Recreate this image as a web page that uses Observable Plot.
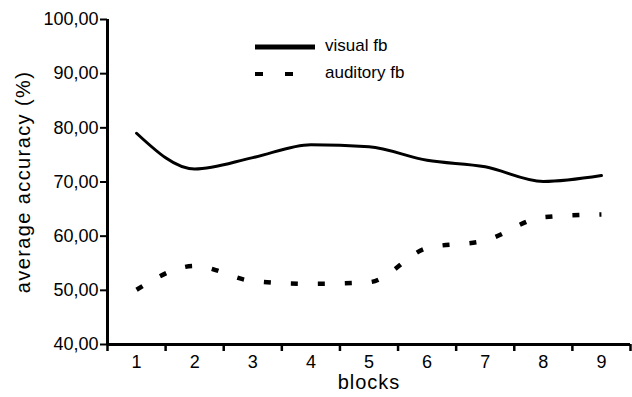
<!DOCTYPE html>
<html><head><meta charset="utf-8">
<script src="https://cdn.jsdelivr.net/npm/d3@7"></script>
<script src="https://cdn.jsdelivr.net/npm/@observablehq/plot@0.6"></script>
<style>
body{margin:0;background:#fff;}
#wrap{position:relative;width:632px;height:397px;font-family:"Liberation Sans",Arial,sans-serif;}
#legend{position:absolute;left:250px;top:34px;}
</style></head><body><div id="wrap"><div id="chart"></div><div id="legend"></div></div>
<script>
const blocks = [1, 2, 3, 4, 5, 6, 7, 8, 9];
const visualFb = [79.0, 72.4, 74.5, 76.9, 76.5, 74.0, 72.8, 70.1, 71.2];
const auditoryFb = [50.1, 54.5, 51.7, 51.2, 51.5, 57.8, 59.2, 63.5, 64.0];
const yTicks = [40, 50, 60, 70, 80, 90, 100];
const seriesNames = ["visual fb", "auditory fb"];

const visualData = blocks.map((b, i) => ({block: b, value: visualFb[i], series: seriesNames[0]}));
const auditoryData = blocks.map((b, i) => ({block: b, value: auditoryFb[i], series: seriesNames[1]}));
const edges = [blocks[0] - 0.5, ...blocks.map(b => b + 0.5)];
const fmt = d => d.toFixed(2).replace(".", ",");
const font = '"Liberation Sans", Arial, sans-serif';

const chart = Plot.plot({
  width: 632, height: 397,
  marginLeft: 107, marginRight: 2, marginTop: 19, marginBottom: 53,
  style: {fontFamily: font, fontSize: "18px", color: "#000", background: "#fff", overflow: "visible"},
  x: {type: "linear", domain: [edges[0], edges[edges.length - 1]]},
  y: {domain: [40, 100]},
  marks: [
    Plot.axisY(yTicks, {tickSize: 7, tickPadding: 2, tickFormat: fmt, strokeWidth: 2, fontSize: 18,
      label: "average accuracy (%)", labelAnchor: "center", labelArrow: "none", labelOffset: 92}),
    Plot.axisX(blocks, {tickSize: 0, tickPadding: 11, tickFormat: d => String(d), fontSize: 18,
      label: "blocks", labelAnchor: "center", labelArrow: "none", labelOffset: 44}),
    Plot.axisX(edges, {tickSize: 7, tickFormat: () => "", label: null, strokeWidth: 2.5}),
    Plot.ruleX([edges[0]], {strokeWidth: 3}),
    Plot.ruleY([40], {strokeWidth: 3}),
    Plot.line(visualData, {x: "block", y: "value", curve: "monotone-x", strokeWidth: 3, stroke: "#000"}),
    Plot.line(auditoryData, {x: "block", y: "value", curve: "monotone-x", strokeWidth: 4.5, stroke: "#000",
      strokeDasharray: "7,20", strokeLinecap: "butt"})
  ]
});
document.getElementById("chart").appendChild(chart);
d3.select(chart).selectAll('g[aria-label="y-axis label"] text')
  .style("font-size", "20px").style("letter-spacing", "1.4px");
d3.select(chart).selectAll('g[aria-label="x-axis label"] text')
  .style("font-size", "20px").style("letter-spacing", "1px");

// legend
const lg = d3.select("#legend").append("svg").attr("width", 200).attr("height", 52)
  .style("font-family", font).style("font-size", "17px");
lg.append("line").attr("x1", 5).attr("x2", 65).attr("y1", 13).attr("y2", 13)
  .attr("stroke", "#000").attr("stroke-width", 5);
lg.append("text").attr("x", 75).attr("y", 13).attr("dominant-baseline", "middle").text(seriesNames[0]);
lg.append("line").attr("x1", 5).attr("x2", 65).attr("y1", 40).attr("y2", 40)
  .attr("stroke", "#000").attr("stroke-width", 4).attr("stroke-dasharray", "8,22");
lg.append("text").attr("x", 75).attr("y", 40).attr("dominant-baseline", "middle").text(seriesNames[1]);
</script></body></html>
